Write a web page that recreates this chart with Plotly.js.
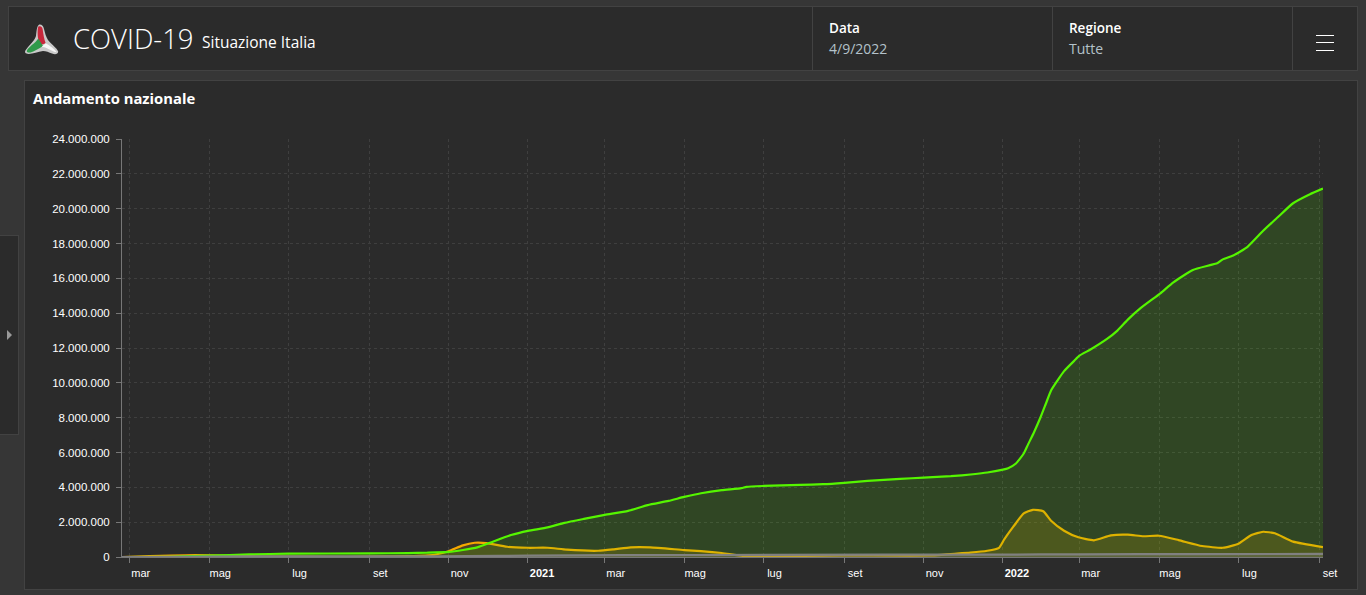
<!DOCTYPE html>
<html>
<head>
<meta charset="utf-8">
<title>COVID-19 Situazione Italia</title>
<script src="https://cdn.plot.ly/plotly-3.0.1.min.js"></script>
<style>
html, body { margin: 0; padding: 0; width: 1366px; height: 595px; overflow: hidden; background: #363636; font-family: 'Open Sans', sans-serif; color: #fff; }
.box { position: absolute; background: #2b2b2b; border: 1px solid #424242; box-sizing: border-box; }
.txt { position: absolute; white-space: nowrap; }
.bar { position: absolute; left: 1316px; width: 18px; height: 1px; background: #fff; }
.sep { position: absolute; top: 7px; width: 1px; height: 64px; background: #424242; }
</style>
</head>
<body>
<div class="box" style="left:8px;top:6px;width:1350px;height:65px"></div>
<div class="sep" style="left:812px"></div>
<div class="sep" style="left:1052px"></div>
<div class="sep" style="left:1292px"></div>
<svg style="position:absolute;left:24px;top:24px;overflow:visible" width="36" height="32" viewBox="0 0 36 32">
  <path d="M15.3 0.6 C18 0.4 19.3 2 20 5 C21 9 22 13 24 16 C27 20 33 24 34.2 27.6 C34 30.4 31 30.6 28 29.6 C25 28.4 22 27 19 27 C14 27.6 9 30 4.6 30 C1.4 30 0.4 28.4 1.4 26.6 C4 22 10 18 12 12 C12.6 8 12.6 2 15.3 0.6 Z" fill="#c9c9c9"/>
  <path d="M14.4 2.6 C16 1.8 18 2 18.6 5 C19.4 10 20 15 21.7 19.3 L15.4 21.4 C14.6 17 13.8 14 13.7 11 C13.6 8 13.6 4 14.4 2.6 Z" fill="#c8283c"/>
  <path d="M14.3 14.6 L19 21.9 C14 25 10 27.6 6.6 28.4 C4.4 28.8 2.4 28.4 2.8 26.8 C5 22.4 11 19.6 14.3 14.6 Z" fill="#2f9a4a"/>
  <path d="M21.7 19.3 C26 22 30.6 25 32.7 28.2 C29 27.8 26 25.4 23.4 24.4 C21.4 23.4 19.4 23 17.7 22.7 Z" fill="#f6f6f6"/>
</svg>
<div class="txt" style="left:73px;top:20px;font-size:27.5px;font-weight:300;line-height:37px">COVID-19</div>
<div class="txt" style="left:202px;top:32px;font-size:15.5px;line-height:21px">Situazione Italia</div>
<div class="txt" style="left:829px;top:19px;font-size:13.5px;font-weight:600;line-height:19px">Data</div>
<div class="txt" style="left:829px;top:39px;font-size:14px;color:#b4c2ca;line-height:19px">4/9/2022</div>
<div class="txt" style="left:1069px;top:19px;font-size:13.5px;font-weight:600;line-height:19px">Regione</div>
<div class="txt" style="left:1069px;top:39px;font-size:14px;color:#b4c2ca;line-height:19px">Tutte</div>
<div class="bar" style="top:35px"></div>
<div class="bar" style="top:42px"></div>
<div class="bar" style="top:50px"></div>

<div class="box" style="left:-1px;top:235px;width:20px;height:200px"></div>
<svg style="position:absolute;left:7px;top:330px" width="6" height="10"><path d="M0 0 L5 5 L0 10 Z" fill="#999"/></svg>

<div class="box" style="left:24px;top:80px;width:1334px;height:510px"></div>
<div class="txt" style="left:33px;top:88px;font-size:14.8px;font-weight:700;line-height:20px">Andamento nazionale</div>
<div id="chart" style="position:absolute;left:25px;top:81px;width:1332px;height:508px"></div>

<script>
const guaritiDates = ['2020-02-24','2020-04-01','2020-05-01','2020-06-01','2020-07-01','2020-09-01','2020-10-01','2020-10-15','2020-11-01','2020-11-12','2020-11-23','2020-12-05','2020-12-19','2021-01-01','2021-01-16','2021-01-29','2021-02-13','2021-03-01','2021-03-19','2021-04-03','2021-04-19','2021-05-01','2021-05-14','2021-05-30','2021-06-14','2021-06-18','2021-07-01','2021-07-29','2021-08-16','2021-09-01','2021-09-19','2021-10-14','2021-11-01','2021-11-22','2021-12-09','2021-12-20','2022-01-01','2022-01-05','2022-01-11','2022-01-17','2022-01-20','2022-01-25','2022-01-30','2022-02-03','2022-02-07','2022-02-12','2022-02-17','2022-02-25','2022-03-01','2022-03-09','2022-03-22','2022-03-30','2022-04-07','2022-04-17','2022-05-02','2022-05-12','2022-05-27','2022-06-15','2022-06-19','2022-06-27','2022-07-08','2022-07-20','2022-07-31','2022-08-12','2022-08-25','2022-09-04'];
const guaritiValues = [0,15000,80000,150000,190000,210000,225000,245000,290000,400000,550000,880000,1260000,1500000,1700000,1960000,2190000,2420000,2650000,2980000,3220000,3450000,3660000,3840000,3950000,4030000,4080000,4140000,4180000,4260000,4370000,4480000,4560000,4640000,4750000,4850000,5020000,5100000,5370000,5940000,6410000,7180000,8040000,8800000,9560000,10140000,10670000,11280000,11570000,11900000,12520000,13000000,13630000,14300000,15140000,15770000,16480000,16880000,17090000,17310000,17810000,18730000,19490000,20310000,20830000,21150000];

const positiviDates = ['2020-02-24','2020-04-20','2020-06-15','2020-08-15','2020-09-15','2020-10-01','2020-10-21','2020-11-01','2020-11-12','2020-11-21','2020-11-30','2020-12-16','2021-01-01','2021-01-16','2021-01-31','2021-02-24','2021-03-08','2021-03-21','2021-04-05','2021-05-01','2021-05-14','2021-05-30','2021-06-15','2021-07-01','2021-09-01','2021-11-08','2021-11-22','2021-12-07','2021-12-20','2021-12-29','2022-01-02','2022-01-09','2022-01-17','2022-01-24','2022-02-01','2022-02-07','2022-02-17','2022-02-28','2022-03-12','2022-03-25','2022-04-07','2022-04-19','2022-05-01','2022-05-16','2022-06-03','2022-06-19','2022-07-01','2022-07-11','2022-07-20','2022-07-29','2022-08-12','2022-09-04'];
const positiviValues = [200,105000,30000,15000,40000,50000,130000,330000,670000,820000,800000,590000,530000,530000,420000,360000,440000,550000,550000,400000,340000,230000,70000,50000,90000,90000,170000,250000,360000,530000,1010000,1740000,2500000,2710000,2630000,2080000,1510000,1130000,960000,1240000,1280000,1190000,1220000,970000,630000,530000,760000,1260000,1450000,1360000,880000,570000];

const decedutiDates = ['2020-02-24','2020-04-01','2020-06-01','2020-10-01','2020-11-15','2021-01-01','2021-03-15','2021-07-01','2022-01-01','2022-03-01','2022-06-01','2022-09-04'];
const decedutiValues = [0,13000,33000,36000,46000,75000,102000,127000,137000,155000,167000,176000];

const tickDates = ['2020-03-01','2020-05-01','2020-07-01','2020-09-01','2020-11-01','2021-01-01','2021-03-01','2021-05-01','2021-07-01','2021-09-01','2021-11-01','2022-01-01','2022-03-01','2022-05-01','2022-07-01','2022-09-01'];
const tickLabels = ['mar','mag','lug','set','nov','<b>\u00a0\u00a02021</b>','mar','mag','lug','set','nov','<b>\u00a0\u00a02022</b>','mar','mag','lug','set'];

function serie(x, y, color, fill) {
    return {
        x: x,
        y: y,
        type: 'scatter',
        mode: 'lines',
        line: { color: color, width: 2.2, shape: 'spline', smoothing: 0.5 },
        fill: 'tozeroy',
        fillcolor: fill,
        hoverinfo: 'skip'
    };
}

const data = [
    serie(positiviDates, positiviValues, '#f5a800', 'rgba(240,165,0,0.17)'),
    serie(guaritiDates, guaritiValues, '#55f500', 'rgba(85,238,0,0.14)'),
    serie(decedutiDates, decedutiValues, '#808080', 'rgba(128,128,128,0.3)')
];

const layout = {
    showlegend: false,
    paper_bgcolor: 'rgba(0,0,0,0)',
    plot_bgcolor: 'rgba(0,0,0,0)',
    separators: ',.',
    margin: { l: 97, r: 34, t: 58, b: 32, pad: 0 },
    font: { family: 'Liberation Sans, Arial', size: 11, color: '#fff' },
    xaxis: {
        type: 'date',
        range: ['2020-02-24', '2022-09-04'],
        tickmode: 'array',
        tickvals: tickDates,
        ticktext: tickLabels,
        ticks: 'outside',
        ticklen: 5,
        tickcolor: '#777',
        ticklabelshift: 11,
        ticklabelstandoff: 1,
        tickangle: 0,
        showgrid: true,
        gridcolor: '#3f3f3f',
        griddash: '3px,3px',
        gridwidth: 1,
        showline: true,
        linecolor: '#777',
        zeroline: false
    },
    yaxis: {
        range: [0, 24000000],
        dtick: 2000000,
        tickformat: ',d',
        tickfont: { size: 11.5 },
        ticks: 'outside',
        ticklen: 5,
        tickcolor: '#777',
        ticklabelstandoff: 4,
        showgrid: true,
        gridcolor: '#3f3f3f',
        griddash: '3px,3px',
        gridwidth: 1,
        showline: true,
        linecolor: '#777',
        zeroline: false
    }
};

const config = {
    responsive: false,
    displayModeBar: false,
    displaylogo: false
};

Plotly.newPlot('chart', data, layout, config);
</script>
</body>
</html>
